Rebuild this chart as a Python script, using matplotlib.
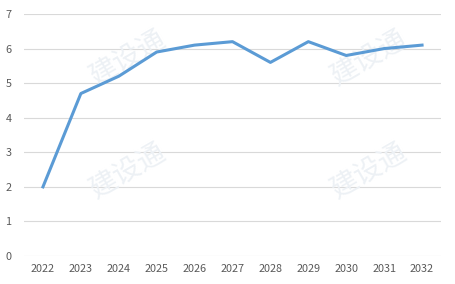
import matplotlib.pyplot as plt

# data
years = ['2022', '2023', '2024', '2025', '2026', '2027', '2028', '2029', '2030', '2031', '2032']
values = [2.0, 4.7, 5.2, 5.9, 6.1, 6.2, 5.6, 6.2, 5.8, 6.0, 6.1]
y_ticks = [0, 1, 2, 3, 4, 5, 6, 7]

plt.rcParams['font.family'] = ['Noto Sans CJK SC', 'DejaVu Sans']

fig = plt.figure(figsize=(4.55, 2.84), dpi=100)
ax = fig.add_axes([24 / 455, 28 / 284, 417 / 455, 242 / 284])

x = range(len(years))
ax.plot(x, values, color='#5b9bd5', linewidth=2.2, solid_joinstyle='round', zorder=3)

ax.set_xlim(-0.5, len(years) - 0.5)
ax.set_ylim(0, 7)
ax.set_yticks(y_ticks)
ax.set_xticks(list(x))
ax.set_xticklabels(years)

# grid lines only, no frame
ax.grid(axis='y', color='#d9d9d9', linewidth=0.8)
ax.set_axisbelow(True)
for s in ax.spines.values():
    s.set_visible(False)
ax.tick_params(length=0, labelsize=7.8, colors='#595959')
ax.tick_params(axis='x', pad=6)
ax.tick_params(axis='y', pad=9)

# faint watermarks, behind the line
for wx, wy in [(0.28, 0.80), (0.28, 0.40), (0.81, 0.80), (0.81, 0.40)]:
    ax.text(wx, wy, '建设通', fontsize=20, color='#edf1f5', rotation=30,
            ha='center', va='center', transform=fig.transFigure, zorder=1)

plt.savefig('out.png', dpi=100)
